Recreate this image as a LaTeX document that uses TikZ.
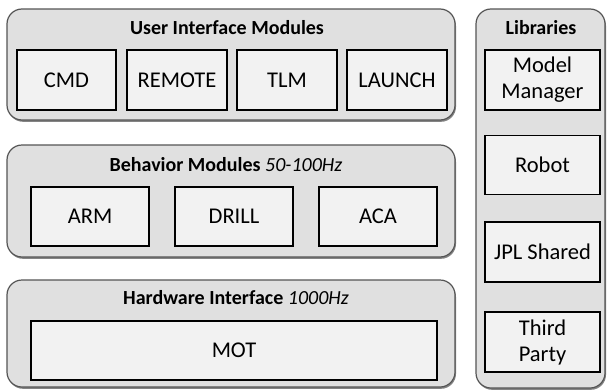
\documentclass[tikz,border=0pt]{standalone}
\usepackage{fontspec}
\setmainfont{Carlito}
\usetikzlibrary{shadows}
\definecolor{groupfill}{HTML}{E0E0E0}
\definecolor{boxfill}{HTML}{F2F2F2}
\definecolor{groupline}{HTML}{555555}

\begin{document}
\begin{tikzpicture}[x=1pt,y=-1pt,
  group/.style={draw=groupline, line width=1.2pt, fill=groupfill,
    rounded corners=15pt, inner sep=0pt,
    drop shadow={shadow xshift=1pt, shadow yshift=-1.8pt, fill=black!60, opacity=0.8}},
  module/.style={draw=black, line width=1.6pt, fill=boxfill, align=center,
    inner sep=0pt, font=\fontsize{22.5}{26}\selectfont},
  title/.style={font=\fontsize{20}{23}\selectfont, inner sep=0pt}]

% canvas
\fill[white] (0,0) rectangle (608,391);
\useasboundingbox (0,0) rectangle (608,391);

% group frames
\node[group, minimum width=448, minimum height=111] (ui) at (231,64.5) {};
\node[group, minimum width=448, minimum height=112] (beh) at (231,201) {};
\node[group, minimum width=448, minimum height=107] (hw) at (231,333.5) {};
\node[group, minimum width=129, minimum height=379] (lib) at (540.5,198.5) {};

% group titles
\node[title] (uititle) at (227,28) {\textbf{User Interface Modules}};
\node[title] (behtitle) at (226,165) {\textbf{Behavior Modules} \textit{50-100Hz}};
\node[title] (hwtitle) at (236,298) {\textbf{Hardware Interface} \textit{1000Hz}};
\node[title] (libtitle) at (541,28) {\textbf{Libraries}};

% user interface modules
\node[module, minimum width=99, minimum height=60] (cmd) at (66.5,80) {CMD};
\node[module, minimum width=100, minimum height=60] (remote) at (177,80) {REMOTE};
\node[module, minimum width=100, minimum height=60] (tlm) at (287,80) {TLM};
\node[module, minimum width=100, minimum height=60] (launch) at (397,80) {LAUNCH};

% behavior modules
\node[module, minimum width=118, minimum height=59] (arm) at (90,216.5) {ARM};
\node[module, minimum width=118, minimum height=59] (drill) at (234,216.5) {DRILL};
\node[module, minimum width=118, minimum height=59] (aca) at (378,216.5) {ACA};

% hardware interface
\node[module, minimum width=406, minimum height=59] (mot) at (234,350.5) {MOT};

% libraries
\node[module, minimum width=115, minimum height=60] (model) at (542.5,80) {Model\\Manager};
\node[module, minimum width=115, minimum height=59] (robot) at (542.5,165) {Robot};
\node[module, minimum width=115, minimum height=60] (jpl) at (542.5,252) {JPL Shared};
\node[module, minimum width=115, minimum height=60] (third) at (542.5,342) {Third\\Party};
\end{tikzpicture}
\end{document}
